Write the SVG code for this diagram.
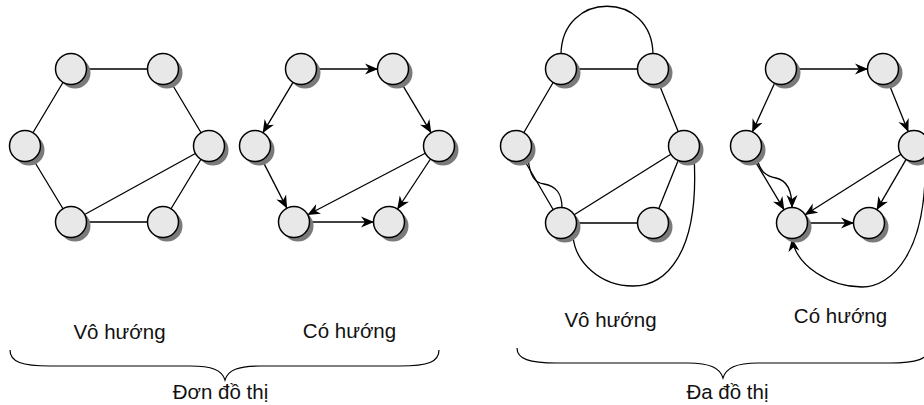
<svg xmlns="http://www.w3.org/2000/svg" width="924" height="405" viewBox="0 0 924 405">
<defs>
<style>
.e{fill:none;stroke:#000;stroke-width:1.3}
.a{marker-end:url(#arr)}
.sh{fill:#7a7a7a}
.n{fill:#e8e8e8;stroke:#000;stroke-width:1.5}
.t{font-family:"Liberation Sans",Arial,sans-serif;font-size:20.5px;fill:#111;text-anchor:middle}
.b{fill:none;stroke:#000;stroke-width:1.2}
</style>
<marker id="arr" markerUnits="userSpaceOnUse" markerWidth="14" markerHeight="12" refX="13" refY="6" orient="auto" viewBox="0 0 14 12">
<path d="M0,0.5 L13,6 L0,11.5 L4,6 z" fill="#000"/>
</marker>
<symbol id="node" overflow="visible">
<circle class="sh" cx="4" cy="4" r="15.5"/>
<circle class="n" cx="0" cy="0" r="15.5"/>
</symbol>
</defs>
<rect width="924" height="405" fill="#fff"/>
<g id="connectors">
<!-- graph 1 -->
<path class="e" d="M71,69 L163,69 M71,69 L25,146 M163,69 L209,146 M25,146 L71,222 M209,146 L71,222 M209,146 L163,222 M71,222 L163,222"/>
<!-- graph 2 -->
<path class="e a" d="M316,69 L378,69"/>
<path class="e a" d="M293.3,81.9 L262.7,133.1"/>
<path class="e a" d="M400.7,81.9 L431.3,133.1"/>
<path class="e a" d="M261.9,159.4 L287.1,208.6"/>
<path class="e a" d="M425.7,153 L307.3,215"/>
<path class="e a" d="M430.8,158.5 L397.2,209.5"/>
<path class="e a" d="M309,222 L374,222"/>
<!-- graph 3 -->
<path class="e" d="M561,69 L653,69 M561,69 L516,146 M653,69 L684,146 M516,146 L561,223 M684,146 L561,223 M684,146 L653,223 M561,223 L653,223"/>
<path class="e" d="M561,55 C561,-10 653,-10 653,55"/>
<path class="e" d="M528,158 C530,177 535,183 544,184 C556,186 562,193 562,208"/>
<path class="e" d="M694,156 C700,255 665,286 633,286 C600,286 575,262 573,236"/>
<!-- graph 4 -->
<path class="e a" d="M796,69 L868,69"/>
<path class="e a" d="M774.8,82.7 L752.2,132.3"/>
<path class="e a" d="M888.6,82.9 L908.4,132.1"/>
<path class="e a" d="M753.7,158.9 L784.3,210.1"/>
<path class="e a" d="M901.3,154 L804.7,215"/>
<path class="e a" d="M906.4,158.9 L876.6,210.1"/>
<path class="e a" d="M807,223 L854,223"/>
<path class="e a" d="M757,158 C760,172 766,176 776,178 C786,180 792,190 792,208"/>
<path class="e a" d="M925,156 C928,252 892,287 862,287 C830,287 796,266 792,238.5"/>
</g>
<g id="g1">
<use id="n1a" href="#node" x="71" y="69"/>
<use id="n1b" href="#node" x="163" y="69"/>
<use id="n1c" href="#node" x="25" y="146"/>
<use id="n1d" href="#node" x="209" y="146"/>
<use id="n1e" href="#node" x="71" y="222"/>
<use id="n1f" href="#node" x="163" y="222"/>
</g>
<g id="g2">
<use id="n2a" href="#node" x="301" y="69"/>
<use id="n2b" href="#node" x="393" y="69"/>
<use id="n2c" href="#node" x="255" y="146"/>
<use id="n2d" href="#node" x="439" y="146"/>
<use id="n2e" href="#node" x="294" y="222"/>
<use id="n2f" href="#node" x="389" y="222"/>
</g>
<g id="g3">
<use id="n3a" href="#node" x="561" y="69"/>
<use id="n3b" href="#node" x="653" y="69"/>
<use id="n3c" href="#node" x="516" y="146"/>
<use id="n3d" href="#node" x="684" y="146"/>
<use id="n3e" href="#node" x="561" y="223"/>
<use id="n3f" href="#node" x="653" y="223"/>
</g>
<g id="g4">
<use id="n4a" href="#node" x="781" y="69"/>
<use id="n4b" href="#node" x="883" y="69"/>
<use id="n4c" href="#node" x="746" y="146"/>
<use id="n4d" href="#node" x="914" y="146"/>
<use id="n4e" href="#node" x="792" y="223"/>
<use id="n4f" href="#node" x="869" y="223"/>
</g>
<g id="braces">
<path class="b" d="M10,350 C10,362 22,366 50,366 L190,366 C212,366 222,370 225,380 C228,370 238,366 260,366 L400,366 C428,366 439,362 439,350"/>
<path class="b" d="M517,348 C517,359 529,363 557,363 L688,363 C710,363 720,368 723,378 C726,368 736,363 758,363 L889,363 C917,363 929,359 929,348"/>
</g>
<g id="labels">
<text class="t" x="119.5" y="339">Vô hướng</text>
<text class="t" x="349.5" y="338">Có hướng</text>
<text class="t" x="220.5" y="399">Đơn đồ thị</text>
<text class="t" x="610.5" y="327">Vô hướng</text>
<text class="t" x="840.5" y="323">Có hướng</text>
<text class="t" x="727.5" y="399">Đa đồ thị</text>
</g>
</svg>
